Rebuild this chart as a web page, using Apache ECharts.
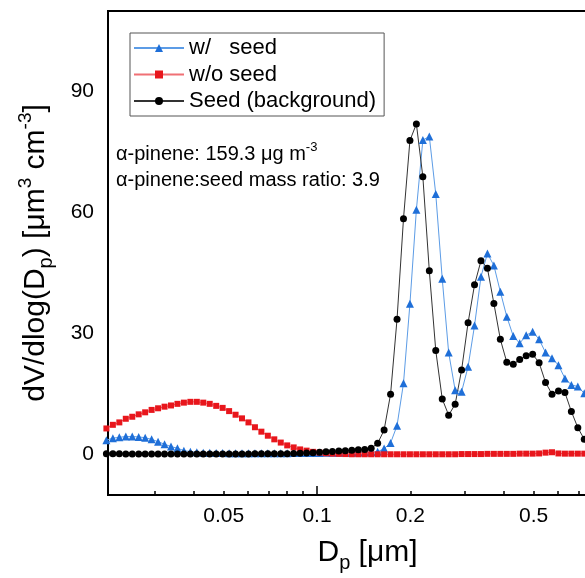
<!DOCTYPE html>
<html>
<head>
<meta charset="utf-8">
<script src="https://cdn.jsdelivr.net/npm/echarts@6/dist/echarts.min.js"></script>
<style>html,body{margin:0;padding:0;background:#fff}#c{width:585px;height:578px}</style>
</head>
<body>
<div id="c"></div>
<script>
// Particle diameters (µm)
const diameters = [0.02092,0.02195,0.02303,0.02416,0.02535,0.02659,0.02790,0.02927,0.03071,0.03222,
0.03380,0.03546,0.03720,0.03903,0.04095,0.04296,0.04507,0.04729,0.04961,0.05205,
0.05461,0.05729,0.06010,0.06306,0.06615,0.06940,0.07281,0.07639,0.08014,0.08408,
0.08821,0.09255,0.09709,0.1019,0.1069,0.1121,0.1176,0.1234,0.1295,0.1359,
0.1425,0.1495,0.1569,0.1646,0.1727,0.1812,0.1901,0.1994,0.2092,0.2195,
0.2303,0.2416,0.2535,0.2659,0.2790,0.2927,0.3071,0.3222,0.3380,0.3546,
0.3720,0.3903,0.4095,0.4296,0.4507,0.4729,0.4961,0.5205,0.5461,0.5729,
0.6010,0.6306,0.6615,0.6940,0.7281];

// w/ seed
const wSeed = [3.6,4.1,4.3,4.5,4.5,4.4,4.2,3.8,3.2,2.6,2.0,1.6,1.0,0.75,0.6,0.5,
0.45,0.4,0.4,0.35,0.35,0.35,0.35,0.35,0.35,0.35,0.35,0.35,0.35,0.4,0.4,0.4,0.4,0.4,0.45,0.45,0.5,0.5,0.5,0.55,0.6,0.6,0.7,
1.5,2.9,7.2,17.7,37.4,60.7,78.0,78.9,64.6,43.6,25.3,16.0,15.6,21.8,32.0,44.1,49.9,46.9,40.4,34.2,29.4,27.6,29.6,30.5,28.6,25.3,23.9,22.2,18.9,17.3,16.9,15.2];

// w/o seed
const woSeed = [6.5,7.4,8.0,8.9,9.4,10.0,10.5,11.1,11.5,11.9,12.2,12.6,12.9,13.1,13.1,12.9,12.6,12.1,11.6,10.8,9.9,9.0,8.0,6.8,5.7,4.7,3.8,3.0,2.3,1.8,1.3,1.0,0.7,0.5,0.35,0.25,
0.2,0.15,0.1,0.1,0.1,0.1,0.1,0.1,0.1,0.1,0.1,0.1,0.1,0.1,0.1,0.1,0.1,0.1,0.1,0.15,0.15,0.15,0.15,0.2,0.2,0.2,0.2,0.2,0.25,0.25,0.25,0.3,0.5,0.6,0.3,0.25,0.25,0.25,0.25];

// Seed (background)
const seedBg = [0.2,0.2,0.2,0.15,0.15,0.15,0.15,0.15,0.15,0.15,0.15,0.15,0.15,0.15,0.15,0.15,0.15,0.15,0.15,0.15,0.15,0.15,0.15,0.2,0.2,0.2,0.2,0.25,0.25,
0.3,0.35,0.4,0.5,0.6,0.7,0.8,0.9,1.0,1.1,1.2,1.3,1.6,
2.8,6.1,15.0,33.6,58.5,77.9,82.0,68.9,45.6,25.8,13.8,9.8,12.5,21.0,32.7,42.1,48.1,46.2,37.5,28.6,22.9,22.4,23.6,24.5,24.9,22.8,17.9,15.0,15.8,15.4,10.7,6.7,3.8];

const seriesNames = ['w/   seed', 'w/o seed', 'Seed (background)'];
const yTicks = [0, 30, 60, 90];
const xTickLabels = [0.05, 0.1, 0.2, 0.5];
const xMinorTicks = [0.03,0.04,0.05,0.06,0.07,0.08,0.09,0.2,0.3,0.4,0.5,0.6,0.7,0.8,0.9];
const xMajorTicks = [0.1, 1];
const X_MIN = 0.02117, X_MAX = 1.0, Y_MIN = -10, Y_MAX = 110;

const FONT = '"Liberation Sans", Arial, Helvetica, sans-serif';
const lg = Math.log10;
const pairs = ys => diameters.map((d, i) => [d, ys[i]]);

const chart = echarts.init(document.getElementById('c'), null, {renderer: 'canvas'});
const option = {
  animation: false,
  backgroundColor: '#fff',
  grid: {left: 108, top: 11, width: 519, height: 484, show: true, outerBoundsMode: 'none', containLabel: false,
         borderColor: '#000', borderWidth: 2, backgroundColor: 'transparent'},
  legend: {
    orient: 'vertical', left: 130, top: 33, padding: [3, 8, 3, 3], itemGap: 2.5,
    itemWidth: 50, itemHeight: 10, borderColor: '#555', borderWidth: 1,
    textStyle: {fontSize: 22, fontFamily: FONT, color: '#000', lineHeight: 24},
    data: seriesNames
  },
  xAxis: [
    {type: 'log', logBase: 10, min: X_MIN, max: X_MAX,
     axisLine: {show: false}, axisTick: {show: false}, axisLabel: {show: false}, splitLine: {show: false},
     name: '{m|D}{s|p}{m| [μm]}', nameLocation: 'middle', nameGap: 38,
     nameTextStyle: {color: '#000', fontFamily: FONT, fontSize: 30,
       rich: {m: {fontSize: 30, fontFamily: FONT, color: '#000', lineHeight: 40},
              s: {fontSize: 20, fontFamily: FONT, color: '#000', verticalAlign: 'bottom'}}}},
    {type: 'value', min: lg(X_MIN), max: lg(X_MAX), position: 'bottom',
     axisLine: {show: false}, splitLine: {show: false},
     axisTick: {show: true, inside: true, length: 4, customValues: xMinorTicks.map(lg),
                lineStyle: {color: '#000', width: 1.5}},
     axisLabel: {show: true, customValues: xTickLabels.map(lg),
                 formatter: v => String(+Math.pow(10, v).toPrecision(2)),
                 fontSize: 21, color: '#000', margin: 11, fontFamily: FONT}},
    {type: 'value', min: lg(X_MIN), max: lg(X_MAX), position: 'bottom',
     axisLine: {show: false}, splitLine: {show: false},
     axisTick: {show: true, inside: true, length: 9, customValues: xMajorTicks.map(lg),
                lineStyle: {color: '#000', width: 1.5}},
     axisLabel: {show: false}}
  ],
  yAxis: {
    type: 'value', min: Y_MIN, max: Y_MAX,
    axisLine: {show: false}, splitLine: {show: false},
    axisTick: {show: true, inside: true, length: 8, customValues: yTicks, lineStyle: {color: '#000', width: 1.5}},
    axisLabel: {customValues: yTicks, fontSize: 21, color: '#000', margin: 14, fontFamily: FONT},
    name: '{m|dV/dlog(D}{s|p}{m|) [μm}{u|3}{m| cm}{u|-3}{m|]}',
    nameLocation: 'middle', nameGap: 52, nameRotate: 90,
    nameTextStyle: {color: '#000', fontFamily: FONT, fontSize: 30,
      rich: {m: {fontSize: 30, fontFamily: FONT, color: '#000', lineHeight: 40},
             s: {fontSize: 20, fontFamily: FONT, color: '#000', verticalAlign: 'bottom'},
             u: {fontSize: 19, fontFamily: FONT, color: '#000', verticalAlign: 'top'}}}
  },
  graphic: [
    {type: 'text', left: 116, top: 141, z: 100,
     style: {text: 'α-pinene: 159.3 μg m{u|-3}', fontSize: 20, fontFamily: FONT, fill: '#000', lineHeight: 27,
             rich: {u: {fontSize: 13, fontFamily: FONT, fill: '#000', verticalAlign: 'top'}}}},
    {type: 'text', left: 116, top: 167, z: 100,
     style: {text: 'α-pinene:seed mass ratio: 3.9', fontSize: 20, fontFamily: FONT, fill: '#000', lineHeight: 27}}
  ],
  series: [
    {name: seriesNames[0], type: 'line', data: pairs(wSeed), symbol: 'triangle', symbolSize: 8, clip: false,
     itemStyle: {color: '#1f6fd8'}, lineStyle: {color: '#5c9ce6', width: 1}},
    {name: seriesNames[1], type: 'line', data: pairs(woSeed), symbol: 'rect', symbolSize: 6, clip: false,
     itemStyle: {color: '#e8161c'}, lineStyle: {color: '#f07075', width: 1}},
    {name: seriesNames[2], type: 'line', data: pairs(seedBg), symbol: 'circle', symbolSize: 7, clip: false,
     itemStyle: {color: '#000'}, lineStyle: {color: '#333', width: 1}}
  ]
};
chart.setOption(option);
</script>
</body>
</html>
